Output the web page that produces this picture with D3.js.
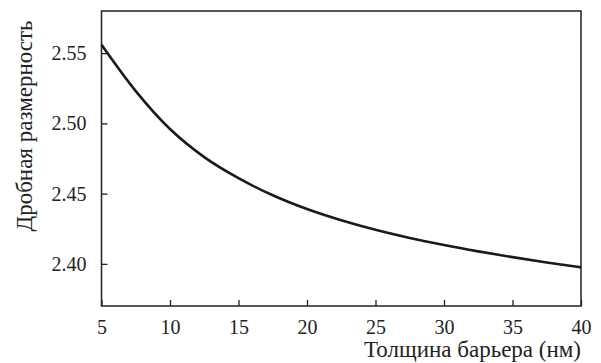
<!DOCTYPE html>
<html>
<head>
<meta charset="utf-8">
<script src="https://cdn.jsdelivr.net/npm/d3@7/dist/d3.min.js"></script>
<style>
  body { margin: 0; background: #fff; }
  svg { display: block; }
</style>
</head>
<body>
<svg id="chart" width="601" height="363"></svg>
<script>
// --- data ---
const thickness = [5, 7.5, 10, 12.5, 15, 17.5, 20, 22.5, 25, 27.5, 30, 32.5, 35, 37.5, 40];
const dimension = [2.556, 2.523, 2.496, 2.476, 2.461, 2.4488, 2.439, 2.431, 2.4242, 2.4184, 2.4134, 2.4089, 2.4048, 2.401, 2.3975];
const xTicks = [5, 10, 15, 20, 25, 30, 35, 40];
const yTicks = [2.40, 2.45, 2.50, 2.55];
const xTitle = "Толщина барьера (нм)";
const yTitle = "Дробная размерность";

const svg = d3.select("#chart");
const margin = { top: 11, right: 20, bottom: 57, left: 101.5 };
const W = 601, H = 363;
const serif = "'Liberation Serif', 'Times New Roman', serif";
const ink = "#222";

const x = d3.scaleLinear().domain([5, 40]).range([margin.left, W - margin.right]);
const y = d3.scaleLinear().domain([2.37, 2.58]).range([H - margin.bottom, margin.top]);

// frame
svg.append("rect")
    .attr("x", x(5)).attr("y", y(2.58))
    .attr("width", x(40) - x(5)).attr("height", y(2.37) - y(2.58))
    .attr("fill", "none").attr("stroke", ink).attr("stroke-width", 1.5);

// x axis, ticks pointing in
const xAxis = svg.append("g")
    .attr("transform", `translate(0,${y(2.37)})`)
    .call(d3.axisBottom(x).tickValues(xTicks).tickSizeInner(-6).tickSizeOuter(0).tickPadding(14)
        .tickFormat(d3.format("d")));
xAxis.select(".domain").remove();
xAxis.selectAll("line").attr("stroke", ink).attr("stroke-width", 1.3);
xAxis.selectAll("text")
    .attr("fill", ink)
    .style("font-family", serif)
    .style("font-size", "20px");

// y axis, ticks pointing in
const yAxis = svg.append("g")
    .attr("transform", `translate(${x(5)},0)`)
    .call(d3.axisLeft(y).tickValues(yTicks).tickSizeInner(-6).tickSizeOuter(0).tickPadding(15)
        .tickFormat(d3.format(".2f")));
yAxis.select(".domain").remove();
yAxis.selectAll("line").attr("stroke", ink).attr("stroke-width", 1.3);
yAxis.selectAll("text")
    .attr("fill", ink)
    .style("font-family", serif)
    .style("font-size", "20px");

// curve
const line = d3.line()
    .x((d, i) => x(thickness[i]))
    .y(d => y(d))
    .curve(d3.curveMonotoneX);

svg.append("path")
    .datum(dimension)
    .attr("d", line)
    .attr("fill", "none")
    .attr("stroke", "#1a1a1a")
    .attr("stroke-width", 2.6);

// titles
svg.append("text")
    .attr("x", 581).attr("y", 357)
    .attr("text-anchor", "end")
    .attr("fill", ink)
    .style("font-family", serif)
    .style("font-size", "23px")
    .text(xTitle);

svg.append("text")
    .attr("transform", "translate(32,126) rotate(-90)")
    .attr("text-anchor", "middle")
    .attr("fill", ink)
    .style("font-family", serif)
    .style("font-size", "23px")
    .text(yTitle);
</script>
</body>
</html>
